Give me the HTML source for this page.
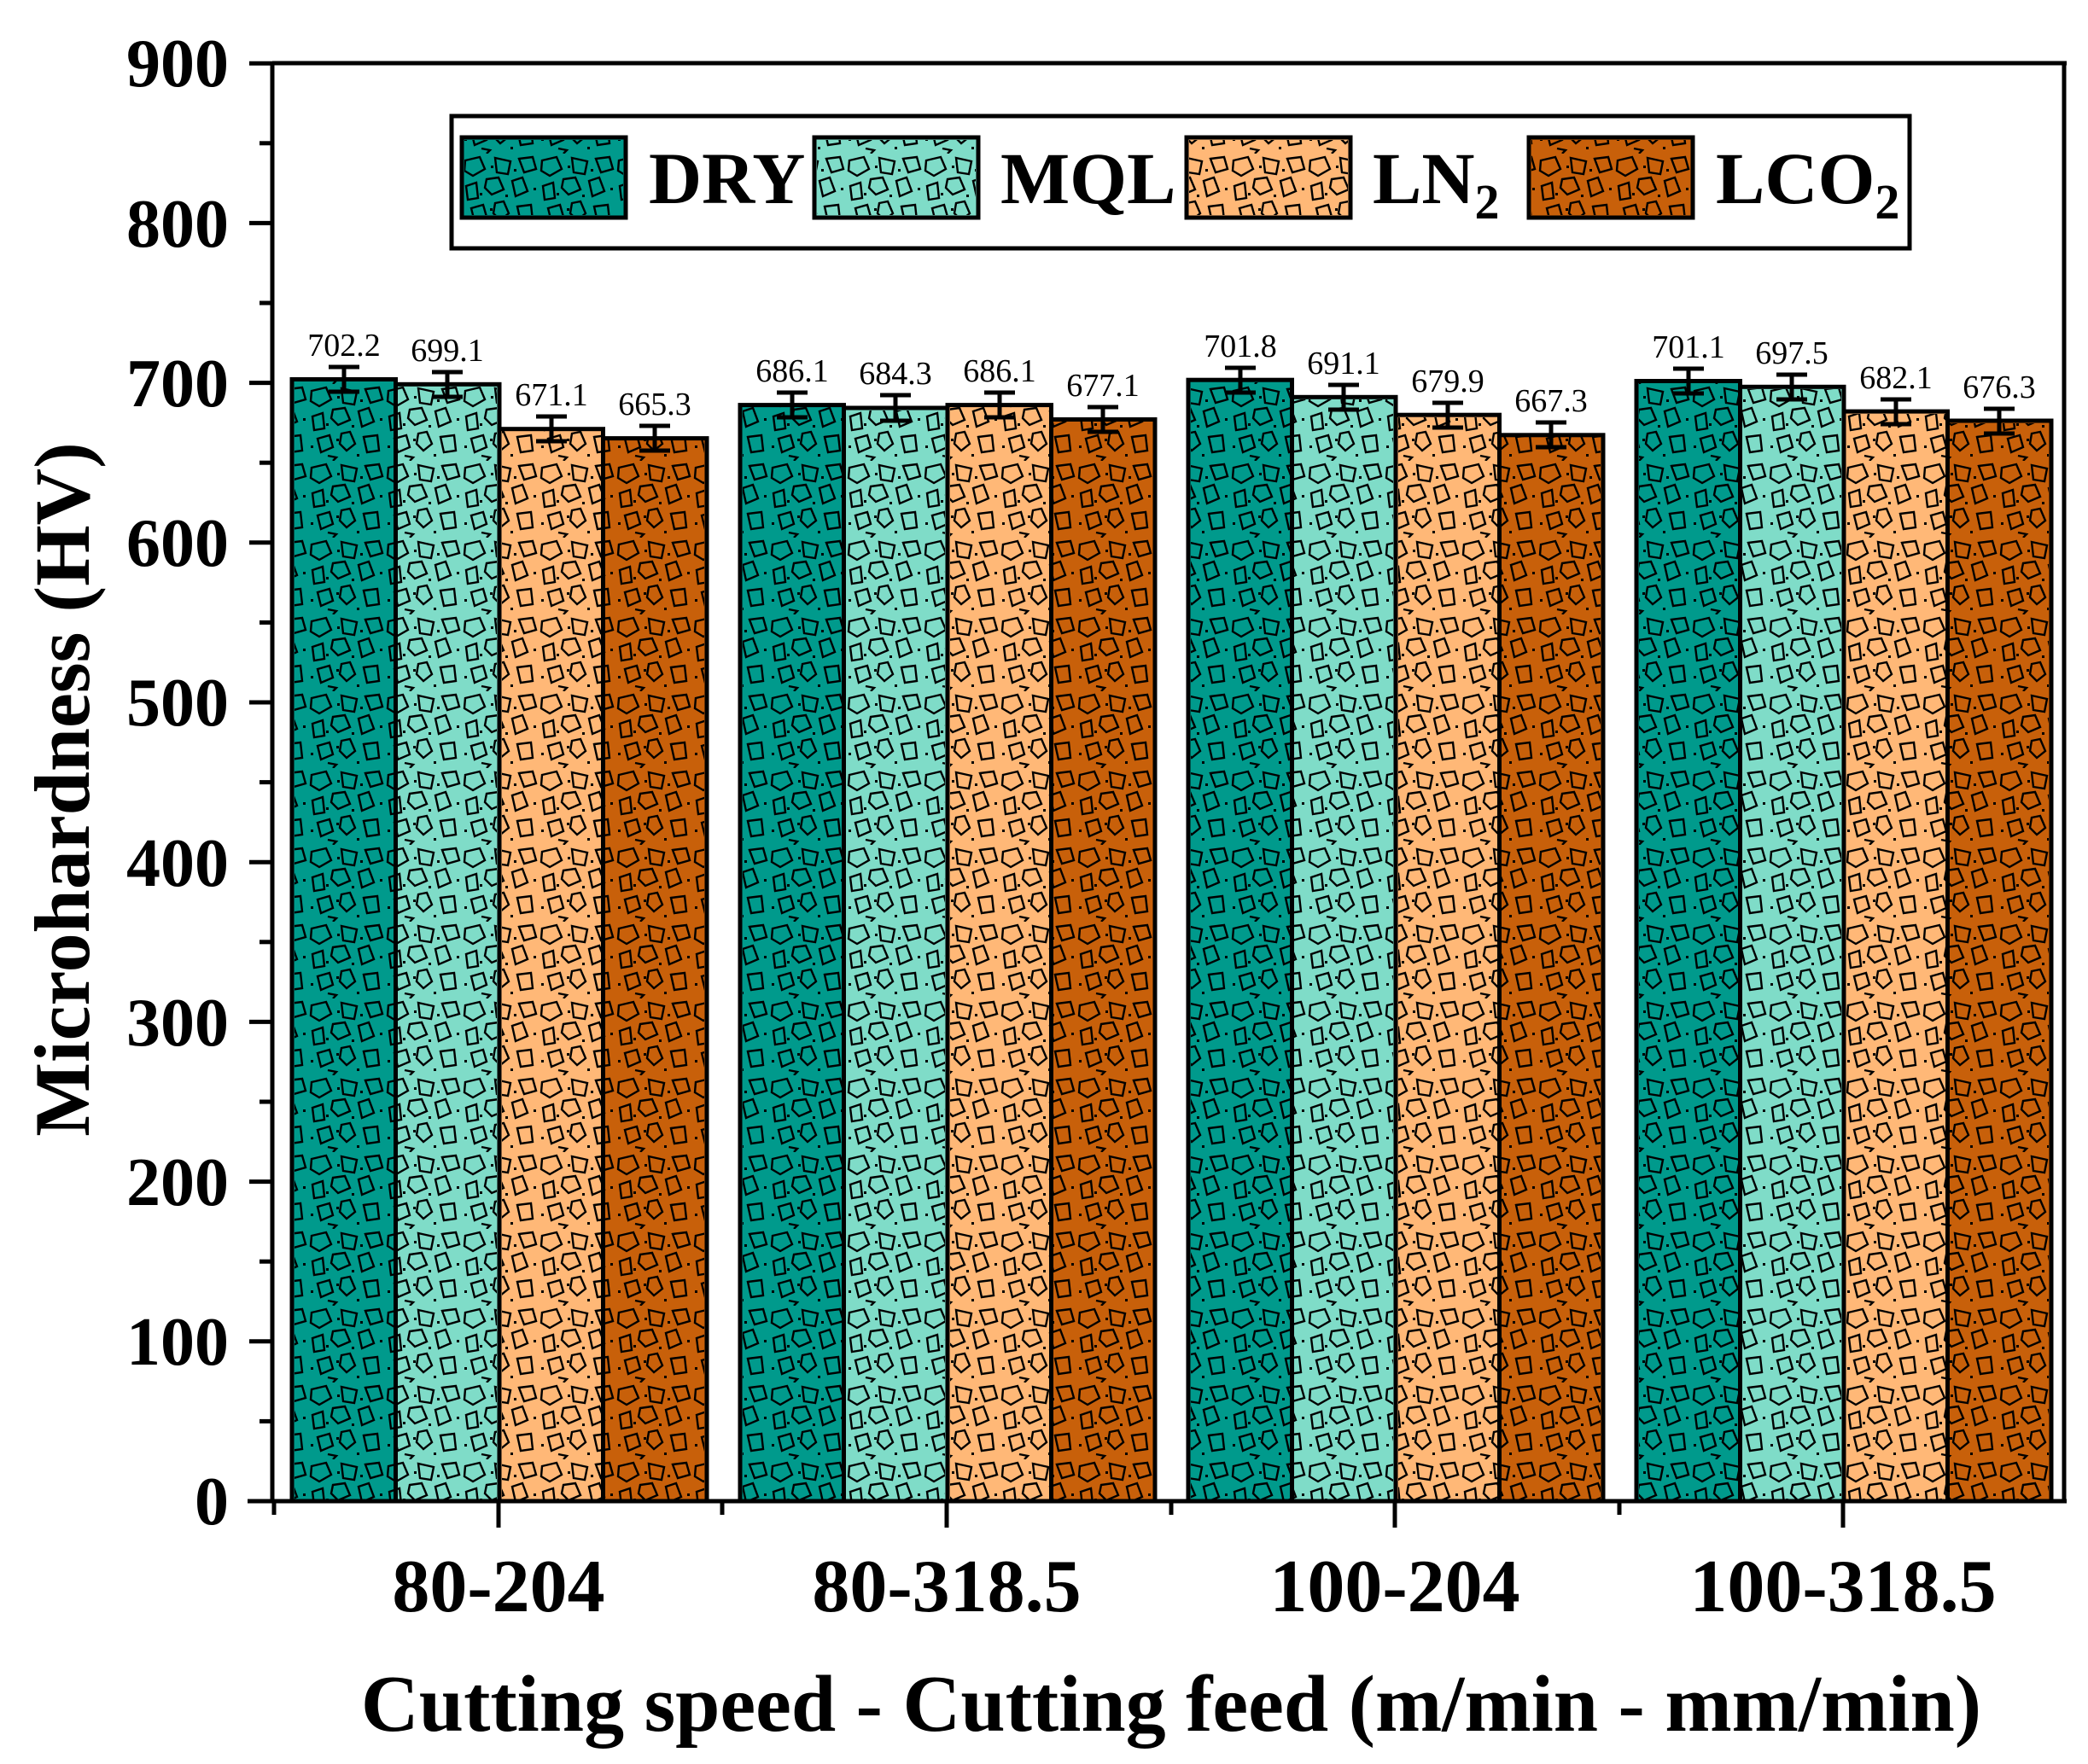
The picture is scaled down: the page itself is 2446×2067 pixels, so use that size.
<!DOCTYPE html>
<html><head><meta charset="utf-8"><style>
html,body{margin:0;padding:0;background:#fff;}
svg{display:block;font-family:"Liberation Serif",serif;}
</style></head><body>
<svg width="2446" height="2067" viewBox="0 0 2446 2067" xmlns="http://www.w3.org/2000/svg">
<defs>
<pattern id="pt" width="90" height="90" patternUnits="userSpaceOnUse">
<g fill="none" stroke="#000" stroke-width="2.4">
<path d="M5 8 L22 4 L28 18 L14 26 L4 20 Z"/>
<path d="M40 5 L58 9 L55 24 L42 22 Z"/>
<path d="M68 6 L84 4 L88 18 L74 22 Z"/>
<path d="M30 30 L44 28 L50 42 L36 48 L28 40 Z"/>
<path d="M60 32 L72 28 L78 44 L64 50 Z"/>
<path d="M6 38 L18 34 L20 52 L8 54 Z"/>
<path d="M12 64 L26 60 L30 74 L16 80 Z"/>
<path d="M40 58 L50 56 L56 70 L46 78 L38 70 Z"/>
<path d="M66 62 L82 60 L84 78 L70 80 Z"/>
<path d="M24 84 L34 86 L30 90"/>
</g>
<g fill="#000">
<rect x="35" y="14" width="3" height="3"/><rect x="62" y="18" width="3" height="3"/>
<rect x="22" y="46" width="3" height="3"/><rect x="85" y="40" width="3" height="3"/>
<rect x="4" y="72" width="3" height="3"/><rect x="58" y="82" width="3" height="3"/>
<rect x="34" y="64" width="3" height="3"/><rect x="52" y="48" width="3" height="3"/>
</g>
</pattern>
</defs>

<g stroke="#000" stroke-width="5" fill="none">
<line x1="319" y1="74" x2="2421" y2="74"/>
<line x1="2418" y1="74" x2="2418" y2="1759"/>
<line x1="319" y1="72" x2="319" y2="1761"/>
<line x1="290" y1="1759" x2="2421" y2="1759"/>
</g>
<g stroke="#000" stroke-width="5">
<line x1="292" y1="1759" x2="319" y2="1759"/><line x1="292" y1="1571.8" x2="319" y2="1571.8"/>
<line x1="292" y1="1384.6" x2="319" y2="1384.6"/><line x1="292" y1="1197.4" x2="319" y2="1197.4"/>
<line x1="292" y1="1010.2" x2="319" y2="1010.2"/><line x1="292" y1="823" x2="319" y2="823"/>
<line x1="292" y1="635.8" x2="319" y2="635.8"/><line x1="292" y1="448.6" x2="319" y2="448.6"/>
<line x1="292" y1="261.4" x2="319" y2="261.4"/><line x1="292" y1="74.2" x2="319" y2="74.2"/>
<line x1="304" y1="1665.4" x2="319" y2="1665.4"/><line x1="304" y1="1478.2" x2="319" y2="1478.2"/>
<line x1="304" y1="1291" x2="319" y2="1291"/><line x1="304" y1="1103.8" x2="319" y2="1103.8"/>
<line x1="304" y1="916.6" x2="319" y2="916.6"/><line x1="304" y1="729.4" x2="319" y2="729.4"/>
<line x1="304" y1="542.2" x2="319" y2="542.2"/><line x1="304" y1="355" x2="319" y2="355"/>
<line x1="304" y1="167.8" x2="319" y2="167.8"/>
<line x1="321" y1="1759" x2="321" y2="1775"/><line x1="846" y1="1759" x2="846" y2="1775"/>
<line x1="1372" y1="1759" x2="1372" y2="1775"/><line x1="1897" y1="1759" x2="1897" y2="1775"/>
<line x1="584" y1="1759" x2="584" y2="1790"/><line x1="1109" y1="1759" x2="1109" y2="1790"/>
<line x1="1634" y1="1759" x2="1634" y2="1790"/><line x1="2159" y1="1759" x2="2159" y2="1790"/>
</g>
<g font-size="80" font-weight="bold" text-anchor="end">
<text x="268" y="1786">0</text><text x="268" y="1599">100</text><text x="268" y="1412">200</text>
<text x="268" y="1225">300</text><text x="268" y="1038">400</text><text x="268" y="850">500</text>
<text x="268" y="663">600</text><text x="268" y="476">700</text><text x="268" y="289">800</text>
<text x="268" y="101">900</text>
</g>
<text transform="translate(104,925) rotate(-90)" font-size="92" font-weight="bold" text-anchor="middle">Microhardness (HV)</text>
<g font-size="88" font-weight="bold" text-anchor="middle">
<text x="584" y="1888">80-204</text><text x="1109" y="1888">80-318.5</text>
<text x="1634" y="1888">100-204</text><text x="2159" y="1888">100-318.5</text>
</g>
<text x="1372" y="2028" font-size="94" font-weight="bold" text-anchor="middle">Cutting speed - Cutting feed (m/min - mm/min)</text>

<g stroke="#000" stroke-width="5">
<rect x="342" y="444.5" width="121.5" height="1314.5" fill="#009a8c"/>
<rect x="463.5" y="450.3" width="121.5" height="1308.7" fill="#7fdcc8"/>
<rect x="585" y="502.7" width="121.5" height="1256.3" fill="#ffb877"/>
<rect x="706.5" y="513.6" width="121.5" height="1245.4" fill="#c8600a"/>
<rect x="867" y="474.6" width="121.5" height="1284.4" fill="#009a8c"/>
<rect x="988.5" y="478" width="121.5" height="1281" fill="#7fdcc8"/>
<rect x="1110" y="474.6" width="121.5" height="1284.4" fill="#ffb877"/>
<rect x="1231.5" y="491.5" width="121.5" height="1267.5" fill="#c8600a"/>
<rect x="1392" y="445.2" width="121.5" height="1313.8" fill="#009a8c"/>
<rect x="1513.5" y="465.3" width="121.5" height="1293.7" fill="#7fdcc8"/>
<rect x="1635" y="486.2" width="121.5" height="1272.8" fill="#ffb877"/>
<rect x="1756.5" y="509.8" width="121.5" height="1249.2" fill="#c8600a"/>
<rect x="1917" y="446.5" width="121.5" height="1312.5" fill="#009a8c"/>
<rect x="2038.5" y="453.3" width="121.5" height="1305.7" fill="#7fdcc8"/>
<rect x="2160" y="482.1" width="121.5" height="1276.9" fill="#ffb877"/>
<rect x="2281.5" y="493" width="121.5" height="1266" fill="#c8600a"/>
</g>
<g fill="url(#pt)">
<rect x="345" y="447" width="116" height="1310"/><rect x="466" y="453" width="116" height="1304"/>
<rect x="588" y="505" width="116" height="1252"/><rect x="709" y="516" width="116" height="1241"/>
<rect x="870" y="477" width="116" height="1280"/><rect x="991" y="481" width="116" height="1276"/>
<rect x="1113" y="477" width="116" height="1280"/><rect x="1234" y="494" width="116" height="1263"/>
<rect x="1395" y="448" width="116" height="1309"/><rect x="1516" y="468" width="116" height="1289"/>
<rect x="1638" y="489" width="116" height="1268"/><rect x="1759" y="512" width="116" height="1245"/>
<rect x="1920" y="449" width="116" height="1308"/><rect x="2041" y="456" width="116" height="1301"/>
<rect x="2163" y="485" width="116" height="1272"/><rect x="2284" y="496" width="116" height="1261"/>
</g>
<g stroke="#000" stroke-width="5">
<path d="M403 430V459M385 430H421M385 459H421"/>
<path d="M524 436V465M506 436H542M506 465H542"/>
<path d="M646 488V517M628 488H664M628 517H664"/>
<path d="M767 499V528M749 499H785M749 528H785"/>
<path d="M928 460V489M910 460H946M910 489H946"/>
<path d="M1049 463V493M1031 463H1067M1031 493H1067"/>
<path d="M1171 460V489M1153 460H1189M1153 489H1189"/>
<path d="M1292 477V506M1274 477H1310M1274 506H1310"/>
<path d="M1453 431V460M1435 431H1471M1435 460H1471"/>
<path d="M1574 451V480M1556 451H1592M1556 480H1592"/>
<path d="M1696 472V501M1678 472H1714M1678 501H1714"/>
<path d="M1817 495V524M1799 495H1835M1799 524H1835"/>
<path d="M1978 432V461M1960 432H1996M1960 461H1996"/>
<path d="M2099 439V468M2081 439H2117M2081 468H2117"/>
<path d="M2221 468V497M2203 468H2239M2203 497H2239"/>
<path d="M2342 479V508M2324 479H2360M2324 508H2360"/>
</g>
<g font-size="38" text-anchor="middle">
<text x="403" y="417">702.2</text><text x="524" y="423">699.1</text>
<text x="646" y="475">671.1</text><text x="767" y="486">665.3</text>
<text x="928" y="447">686.1</text><text x="1049" y="450">684.3</text>
<text x="1171" y="447">686.1</text><text x="1292" y="464">677.1</text>
<text x="1453" y="418">701.8</text><text x="1574" y="438">691.1</text>
<text x="1696" y="459">679.9</text><text x="1817" y="482">667.3</text>
<text x="1978" y="419">701.1</text><text x="2099" y="426">697.5</text>
<text x="2221" y="455">682.1</text><text x="2342" y="466">676.3</text>
</g>

<rect x="529" y="136" width="1708" height="155" fill="#fff" stroke="#000" stroke-width="5"/>
<g stroke="#000" stroke-width="5">
<rect x="541" y="161" width="192" height="94" fill="#009a8c"/>
<rect x="954" y="161" width="192" height="94" fill="#7fdcc8"/>
<rect x="1390" y="161" width="192" height="94" fill="#ffb877"/>
<rect x="1791" y="161" width="192" height="94" fill="#c8600a"/>
</g>
<g fill="url(#pt)">
<rect x="544" y="164" width="186" height="88"/><rect x="957" y="164" width="186" height="88"/>
<rect x="1393" y="164" width="186" height="88"/><rect x="1794" y="164" width="186" height="88"/>
</g>
<g font-size="86" font-weight="bold">
<text x="760" y="238">DRY</text>
<text x="1172" y="238">MQL</text>
<text x="1608" y="238">LN<tspan font-size="58" dy="18">2</tspan></text>
<text x="2010" y="238">LCO<tspan font-size="58" dy="18">2</tspan></text>
</g>
</svg>
</body></html>
